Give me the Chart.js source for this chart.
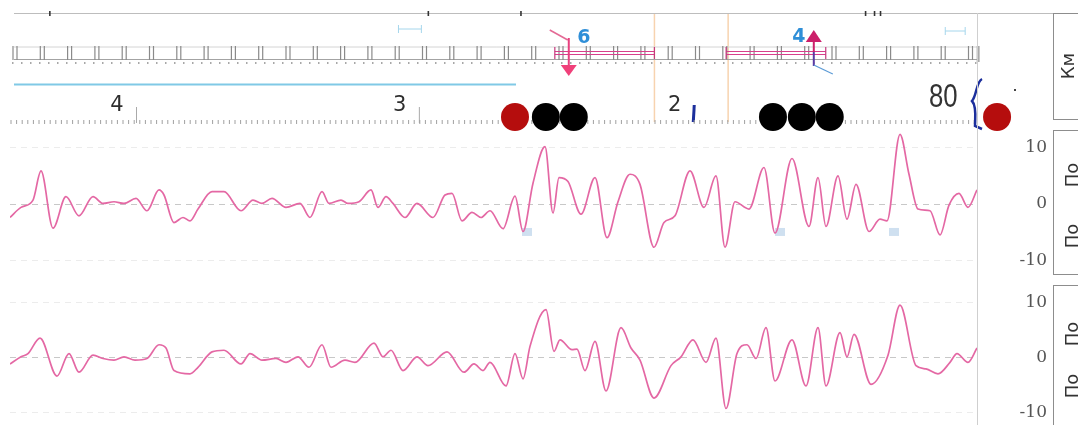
<!DOCTYPE html>
<html>
<head>
<meta charset="utf-8">
<script src="https://cdn.jsdelivr.net/npm/chart.js@4.4.0/dist/chart.umd.min.js"></script>
<style>
  html, body { margin: 0; padding: 0; background: #fff; }
  body { width: 1078px; height: 425px; position: relative; overflow: hidden; }
  canvas { position: absolute; left: 0; }
  #strip { top: 0; }
  #wave1 { top: 116px; }
  #wave2 { top: 270px; }
  .sep { position: absolute; left: 977px; top: 13px; width: 1px; height: 412px; background: #cfcfcf; }
  .box { position: absolute; left: 1053px; width: 60px; border: 1px solid #8d8d8d; }
  .lab { position: absolute; transform: translate(-50%, -50%) rotate(-90deg); font: 18px "DejaVu Sans", sans-serif; color: #333; white-space: nowrap; }
</style>
</head>
<body>
<canvas id="strip" width="1078" height="140"></canvas>
<canvas id="wave1" width="1078" height="174"></canvas>
<canvas id="wave2" width="1078" height="175"></canvas>
<div class="sep"></div>
<div class="box" style="top:13px;height:105px"></div>
<div class="box" style="top:130px;height:143px"></div>
<div class="box" style="top:285px;height:150px"></div>
<div class="lab" style="left:1067px;top:66px">Км</div>
<div class="lab" style="left:1071px;top:175px">По</div>
<div class="lab" style="left:1071px;top:236px">По</div>
<div class="lab" style="left:1071px;top:334px">По</div>
<div class="lab" style="left:1071px;top:386px">По</div>
<script>
// positions along the strip (t), values of the two traces
const t1 = [0, 11, 23, 31, 43, 56, 69, 83, 93, 104, 114, 126, 137, 149, 154, 164, 173, 180, 188, 202,
  214, 231, 243, 252, 262, 276, 290, 300, 312, 319, 331, 338, 349, 361, 368, 376, 383, 395, 407, 423,
  435, 442, 452, 462, 471, 480, 493, 505, 513, 523, 535, 543, 549, 558, 571, 585, 597, 608, 620, 630,
  644, 654, 665, 680, 694, 706, 715, 725, 739, 754, 765, 782, 799, 808, 816, 828, 837, 846, 859, 870,
  877, 890, 899, 908, 920, 930, 939, 949, 958, 967]
const v1 = [-2.4, -0.6, 0.7, 5.9, -4.3, 1.3, -2.1, 1.3, 0.1, 0.4, 0.1, 1.0, -1.2, 2.5, 1.6, -3.3, -2.4, -3.0, -0.9, 2.2,
  2.2, -1.2, 0.7, 0.1, 1.0, -0.6, 0.1, -2.4, 2.2, 0.1, 0.7, 0.1, 0.4, 2.5, -0.6, 1.3, 0.1, -2.4, 0.1, -2.4,
  1.6, 1.9, -3.0, -1.5, -2.4, -1.2, -4.4, 1.4, -4.9, 3.7, 10.2, -1.6, 4.7, 4.0, -1.8, 4.7, -6.0, 0.4, 5.3, 3.5,
  -7.7, -3.3, -2.1, 5.9, -0.6, 5.0, -7.7, 0.4, -0.9, 6.5, -5.2, 8.1, -4.0, 4.7, -4.0, 5.0, -2.7, 3.5, -4.9, -2.7,
  -3.0, 12.4, 5.3, -0.9, -1.2, -5.5, -0.2, 1.9, -0.6, 2.5]

const t2 = [0, 11, 18, 30, 47, 59, 69, 83, 93, 104, 114, 125, 137, 149, 156, 164, 180, 188, 202, 214,
  231, 240, 252, 266, 276, 288, 299, 312, 321, 335, 345, 364, 373, 381, 393, 407, 418, 437, 454, 464,
  473, 480, 496, 505, 513, 520, 536, 544, 550, 562, 567, 575, 585, 596, 611, 621, 630, 644, 661, 671,
  683, 696, 706, 716, 727, 737, 746, 756, 765, 782, 796, 808, 816, 830, 837, 844, 861, 878, 890, 906,
  916, 928, 940, 947, 958, 967]
const v2 = [-1.1, 0.2, 0.8, 3.6, -3.3, 0.8, -2.6, 0.5, -0.1, -0.4, 0.2, -0.4, -0.1, 2.4, 1.8, -2.3, -2.9, -1.7, 1.1, 1.4,
  -1.1, 0.8, -0.4, -0.1, -0.8, 0.2, -1.7, 2.4, -1.7, -0.4, -0.8, 2.7, 0.2, 1.4, -2.3, 0.2, -1.4, 1.1, -2.6, -1.1,
  -2.3, -0.8, -5.1, 0.8, -3.8, 2.1, 8.8, 1.2, 3.3, 1.5, 1.6, -2.3, 3.0, -6.0, 5.5, 1.8, -0.4, -7.3, -1.4, 0.2,
  3.3, -0.8, 3.6, -9.2, 0.8, 2.4, -0.1, 5.5, -4.2, 3.3, -5.1, 5.5, -5.1, 4.6, 0.2, 4.3, -4.8, 0.5, 9.6, -1.4,
  -2.0, -2.9, -0.8, 0.8, -0.8, 1.8]

const yTicks = [-10, 0, 10]

// strip markers
const redDotT = [503, 987]
const blackDotT = [534, 562, 762, 791, 819]
const minuteT = [123, 407, 683]
const minuteLabels = ['4', '3', '2']
const rateT = 933
const rateLabel = '80'
const pinkSegT = [[543, 643], [715, 815]]
const orangeT = [643, 717]
const arrowDownT = 557
const arrowDownLabel = '6'
const arrowUpT = 803
const arrowUpLabel = '4'
const cyanEndT = 504
const squareT1 = [517, 770, 884]

const PINK = 'rgb(228, 104, 164)'

function seg(ctx, x1, y1, x2, y2, color, w) {
    ctx.strokeStyle = color
    ctx.lineWidth = w
    ctx.beginPath()
    ctx.moveTo(x1, y1)
    ctx.lineTo(x2, y2)
    ctx.stroke()
}

const stripDecor = {
    id: 'stripDecor',
    beforeDatasetsDraw(chart) {
        const { ctx, scales: { x } } = chart
        const px = t => x.getPixelForValue(t)
        const L = px(0), R = px(968)
        ctx.save()

        // top rule
        seg(ctx, L, 13.5, 1078, 13.5, '#bdbdbd', 1)
        ;[36, 416, 509, 855, 864, 870].forEach(t => seg(ctx, px(t), 11, px(t), 16, '#333', 1.6))

        // orange marks
        orangeT.forEach(t => seg(ctx, px(t), 14, px(t), 122, 'rgba(240, 175, 110, 0.55)', 1.5))

        // upper ruler
        seg(ctx, L, 47, R, 47, '#d4d4d4', 1)
        seg(ctx, L, 59.5, R, 59.5, '#a3a3a3', 1)
        for (let m = 13; m < R - 4; m += 27.3) {
            seg(ctx, m, 46, m, 60, '#8a8a8a', 1.2)
            seg(ctx, m + 4, 46, m + 4, 60, '#8a8a8a', 1.2)
        }
        ctx.fillStyle = '#a8a8a8'
        for (let d = 12; d < R; d += 9) ctx.fillRect(d, 62, 1.5, 2)
        seg(ctx, R, 46, R, 62, '#aaa', 3)

        // pink segments
        pinkSegT.forEach(([a, b]) => {
            seg(ctx, px(a), 51.5, px(b), 51.5, '#d83f8c', 1.2)
            seg(ctx, px(a), 54.5, px(b), 54.5, '#d83f8c', 1.2)
            seg(ctx, px(a), 47, px(a), 59, '#c53a7e', 1.2)
            seg(ctx, px(b), 47, px(b), 59, '#c53a7e', 1.2)
        })

        // cyan line and small marks
        seg(ctx, L, 84.5, px(cyanEndT), 84.5, '#80c9e6', 2)
        ;[[386, 409, 29], [935, 955, 31]].forEach(([a, b, y]) => {
            seg(ctx, px(a), y, px(b), y, '#a5d6ec', 1)
            seg(ctx, px(a), y - 4, px(a), y + 4, '#a5d6ec', 1)
            seg(ctx, px(b), y - 4, px(b), y + 4, '#a5d6ec', 1)
        })

        // down arrow
        const ad = px(arrowDownT)
        seg(ctx, ad - 19, 30, ad - 1, 40, '#e46a95', 1.5)
        seg(ctx, ad, 38, ad, 68, '#e8407f', 2)
        ctx.fillStyle = '#f0407a'
        ctx.beginPath(); ctx.moveTo(ad - 8, 65); ctx.lineTo(ad + 8, 65); ctx.lineTo(ad, 76); ctx.closePath(); ctx.fill()
        ctx.font = 'bold 19px "DejaVu Sans"'
        ctx.textAlign = 'center'
        ctx.textBaseline = 'middle'
        ctx.fillStyle = '#2f8fd8'
        ctx.fillText(arrowDownLabel, ad + 15, 38)

        // up arrow
        const au = px(arrowUpT)
        seg(ctx, au, 40, au, 52, '#cc1f6a', 2)
        seg(ctx, au, 52, au, 66, '#5b3aa3', 2)
        seg(ctx, au, 65, au + 19, 74, '#5c9bd6', 1.2)
        ctx.fillStyle = '#cc1f6a'
        ctx.beginPath(); ctx.moveTo(au - 8, 42); ctx.lineTo(au + 8, 42); ctx.lineTo(au, 30); ctx.closePath(); ctx.fill()
        ctx.fillStyle = '#2f8fd8'
        ctx.fillText(arrowUpLabel, au - 15, 37)

        // minute ticks and labels
        ctx.font = '21px "DejaVu Sans"'
        ctx.textAlign = 'right'
        ctx.fillStyle = '#2e2e2e'
        minuteT.forEach((t, i) => {
            seg(ctx, px(t), 107, px(t), 123, '#aaa', 1)
            ctx.fillText(minuteLabels[i], px(t) - 13, 106)
        })
        seg(ctx, px(683), 105, px(682), 122, '#1c2f9c', 3)

        // lower ruler
        for (let d = 11; d < R; d += 5.6) seg(ctx, d, 120, d, 124, '#a0a0a0', 1)

        // rate label
        ctx.save()
        ctx.translate(px(rateT), 98)
        ctx.scale(0.78, 1)
        ctx.font = '33px "Liberation Sans"'
        ctx.textAlign = 'center'
        ctx.fillStyle = '#333'
        ctx.fillText(rateLabel, 0, 0)
        ctx.restore()

        // blue brace
        ctx.strokeStyle = '#1c2f9c'
        ctx.lineWidth = 2.5
        ctx.beginPath()
        ctx.moveTo(982, 79)
        ctx.bezierCurveTo(976, 82, 977, 95, 972, 101)
        ctx.bezierCurveTo(977, 106, 975, 120, 975, 126)
        ctx.lineTo(982, 129)
        ctx.stroke()
        ctx.fillStyle = '#444'
        ctx.fillRect(1014, 89, 2, 2)

        ctx.restore()
    }
}

new Chart('strip', {
    type: 'scatter',
    data: {
        datasets: [{
            data: redDotT.map(x => ({ x, y: 0 })),
            backgroundColor: '#b50d0d',
            borderWidth: 0,
            pointRadius: 14,
            clip: false
        }, {
            data: blackDotT.map(x => ({ x, y: 0 })),
            backgroundColor: '#000',
            borderWidth: 0,
            pointRadius: 14,
            clip: false
        }]
    },
    options: {
        responsive: false,
        animation: false,
        events: [],
        layout: { padding: { left: 10, right: 67, top: 108, bottom: 2 } },
        plugins: { legend: { display: false }, tooltip: { enabled: false } },
        scales: {
            x: { type: 'linear', min: 0, max: 1001, display: false },
            y: { min: -1, max: 1, display: false }
        }
    },
    plugins: [stripDecor]
})

const squares = {
    id: 'squares',
    beforeDatasetsDraw(chart) {
        const { ctx, scales: { x, y } } = chart
        ctx.save()
        ctx.fillStyle = '#cfe0f0'
        squareT1.forEach(t => ctx.fillRect(x.getPixelForValue(t) - 5, y.getPixelForValue(-4.8) - 3, 10, 8))
        ctx.restore()
    }
}

function printWave(id, t, v, yMin, yMax, padTop, padBottom, extra) {
    const data = {
        datasets: [{
            data: t.map((x, i) => ({ x, y: v[i] })),
            borderColor: PINK,
            borderWidth: 1.7,
            pointRadius: 0,
            fill: false,
            cubicInterpolationMode: 'monotone'
        }]
    }

    const options = {
        responsive: false,
        animation: false,
        events: [],
        layout: { padding: { left: 10, right: 31, top: padTop, bottom: padBottom } },
        plugins: { legend: { display: false }, tooltip: { enabled: false } },
        scales: {
            x: { type: 'linear', min: 0, max: 968, display: false },
            y: {
                position: 'right',
                min: yMin,
                max: yMax,
                afterBuildTicks: s => { s.ticks = yTicks.map(value => ({ value })) },
                afterFit: s => { s.width = 69 },
                ticks: { crossAlign: 'far', padding: 0, color: '#555', font: { family: 'DejaVu Serif', size: 17 } },
                grid: { drawTicks: false, lineWidth: 1, color: c => c.tick && c.tick.value === 0 ? '#c8c8c8' : '#ececec' },
                border: { display: false, dash: [6, 5] }
            }
        }
    }

    new Chart(id, { type: 'line', data, options, plugins: extra })
}

printWave('wave1', t1, v1, -13, 13, 15, 13, [squares])
printWave('wave2', t2, v2, -12.2, 12.9, 17, 20, [])
</script>
</body>
</html>
